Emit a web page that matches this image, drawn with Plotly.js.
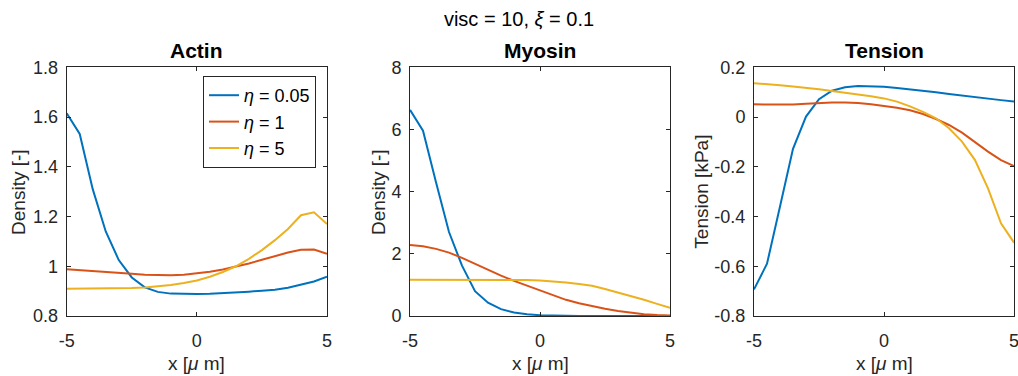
<!DOCTYPE html>
<html>
<head>
<meta charset="utf-8">
<script src="https://cdn.plot.ly/plotly-3.0.1.min.js"></script>
<style>
  html, body { margin: 0; padding: 0; background: #fff; }
  #chart { width: 1018px; height: 376px; }
</style>
</head>
<body>
<div id="chart"></div>
<script>
// Position along the domain, x [μm]
const xPos = [-5, -4.5, -4, -3.5, -3, -2.5, -2, -1.5, -1, -0.5, 0, 0.5, 1, 1.5, 2, 2.5, 3, 3.5, 4, 4.5, 5];

// Series labels (friction coefficient η)
const seriesNames = ['<i>η</i> = 0.05', '<i>η</i> = 1', '<i>η</i> = 5'];
const seriesColors = ['#0072BD', '#D95319', '#EDB120'];

// Actin density [-]
const actinEta005 = [1.615, 1.532, 1.31, 1.14, 1.025, 0.955, 0.915, 0.897, 0.89, 0.888, 0.888, 0.889, 0.891, 0.894, 0.898, 0.902, 0.906, 0.914, 0.925, 0.939, 0.958];
const actinEta1   = [0.988, 0.985, 0.982, 0.978, 0.974, 0.970, 0.966, 0.964, 0.964, 0.966, 0.971, 0.978, 0.987, 0.998, 1.011, 1.026, 1.041, 1.055, 1.066, 1.067, 1.05];
const actinEta5   = [0.91, 0.91, 0.911, 0.911, 0.912, 0.913, 0.915, 0.919, 0.925, 0.933, 0.943, 0.958, 0.977, 1.0, 1.03, 1.065, 1.105, 1.15, 1.205, 1.217, 1.17];

// Myosin density [-]
const myosinEta005 = [6.63, 5.96, 4.3, 2.7, 1.62, 0.8, 0.43, 0.22, 0.11, 0.055, 0.025, 0.012, 0.006, 0.003, 0.002, 0.001, 0.001, 0, 0, 0, 0];
const myosinEta1   = [2.28, 2.24, 2.16, 2.04, 1.87, 1.68, 1.47, 1.30, 1.13, 0.98, 0.84, 0.68, 0.52, 0.41, 0.31, 0.23, 0.16, 0.10, 0.06, 0.035, 0.02];
const myosinEta5   = [1.17, 1.17, 1.17, 1.17, 1.17, 1.17, 1.17, 1.17, 1.17, 1.16, 1.14, 1.12, 1.08, 1.03, 0.97, 0.87, 0.76, 0.64, 0.52, 0.39, 0.26];

// Tension [kPa]
const tensionEta005 = [-0.693, -0.59, -0.36, -0.128, 0.002, 0.072, 0.106, 0.12, 0.125, 0.125, 0.122, 0.117, 0.112, 0.106, 0.1, 0.093, 0.086, 0.08, 0.074, 0.068, 0.062];
const tensionEta1   = [0.051, 0.05, 0.049, 0.05, 0.053, 0.056, 0.058, 0.058, 0.056, 0.051, 0.045, 0.037, 0.027, 0.012, -0.008, -0.032, -0.063, -0.102, -0.139, -0.173, -0.197];
const tensionEta5   = [0.136, 0.133, 0.128, 0.123, 0.118, 0.112, 0.105, 0.099, 0.092, 0.084, 0.075, 0.062, 0.043, 0.021, -0.005, -0.045, -0.099, -0.173, -0.287, -0.427, -0.505];

// Axis ticks
const xTickVals = [-5, 0, 5];
const xTickText = ['-5', '0', '5'];
const actinTickVals = [0.8, 1, 1.2, 1.4, 1.6, 1.8];
const actinTickText = ['0.8', '1', '1.2', '1.4', '1.6', '1.8'];
const myosinTickVals = [0, 2, 4, 6, 8];
const myosinTickText = ['0', '2', '4', '6', '8'];
const tensionTickVals = [-0.8, -0.6, -0.4, -0.2, 0, 0.2];
const tensionTickText = ['-0.8', '-0.6', '-0.4', '-0.2', '0', '0.2'];

// Panel texts
const mainTitle = 'visc = 10, <i>ξ</i> = 0.1';
const panelTitles = ['Actin', 'Myosin', 'Tension'];
const yTitles = ['Density [-]', 'Density [-]', 'Tension [kPa]'];
const xTitle = 'x [<i>μ</i> m]';

const W = 1018, H = 376;
const FONT = 'Liberation Sans, Arial, Helvetica, sans-serif';
const AXIS_COLOR = '#262626';

// Plot-area boxes in pixels
const panels = [
  { left: 66.7, right: 327, yTitleX: 18.3 },
  { left: 410, right: 670, yTitleX: 378.3 },
  { left: 754, right: 1014, yTitleX: 702 }
];
const plotTop = 67.3, plotBottom = 316;
const yDomain = [1 - plotBottom / H, 1 - plotTop / H];

const seriesByPanel = [
  [actinEta005, actinEta1, actinEta5],
  [myosinEta005, myosinEta1, myosinEta5],
  [tensionEta005, tensionEta1, tensionEta5]
];

const traces = [];
seriesByPanel.forEach((group, p) => {
  group.forEach((vals, s) => {
    traces.push({
      type: 'scatter',
      mode: 'lines',
      x: xPos,
      y: vals,
      name: seriesNames[s],
      showlegend: p === 0,
      xaxis: p === 0 ? 'x' : 'x' + (p + 1),
      yaxis: p === 0 ? 'y' : 'y' + (p + 1),
      line: { color: seriesColors[s], width: 2 }
    });
  });
});

function baseAxis() {
  return {
    showgrid: false,
    zeroline: false,
    showline: true,
    linecolor: AXIS_COLOR,
    linewidth: 1,
    mirror: 'ticks',
    ticks: 'inside',
    ticklen: 4,
    tickwidth: 1,
    tickcolor: AXIS_COLOR,
    tickfont: { family: FONT, size: 18, color: AXIS_COLOR },
    ticklabeloverflow: 'allow',
    fixedrange: true
  };
}

const layout = {
  width: W,
  height: H,
  margin: { l: 0, r: 0, t: 0, b: 0 },
  paper_bgcolor: '#ffffff',
  plot_bgcolor: '#ffffff',
  font: { family: FONT, color: AXIS_COLOR },
  title: {
    text: mainTitle,
    font: { family: FONT, size: 20, color: '#000000' },
    xref: 'container', yref: 'container',
    x: 519 / W, y: 1 - 18.5 / H,
    xanchor: 'center', yanchor: 'middle'
  },
  legend: {
    x: 203 / W, y: 1 - 76 / H,
    xanchor: 'left', yanchor: 'top',
    bgcolor: '#ffffff',
    bordercolor: AXIS_COLOR,
    borderwidth: 1,
    font: { family: FONT, size: 18, color: '#000000' },
    tracegroupgap: 0,
    itemwidth: 30
  },
  annotations: []
};

const yTicks = [
  [actinTickVals, actinTickText, [0.8, 1.8]],
  [myosinTickVals, myosinTickText, [0, 8]],
  [tensionTickVals, tensionTickText, [-0.8, 0.2]]
];

panels.forEach((pn, i) => {
  const sfx = i === 0 ? '' : String(i + 1);
  const xa = Object.assign(baseAxis(), {
    domain: [pn.left / W, pn.right / W],
    anchor: 'y' + sfx,
    range: [-5, 5],
    tickvals: xTickVals,
    ticktext: xTickText,
    ticklabelstandoff: 8
  });
  const ya = Object.assign(baseAxis(), {
    domain: yDomain,
    anchor: 'x' + sfx,
    range: yTicks[i][2],
    tickvals: yTicks[i][0],
    ticktext: yTicks[i][1],
    ticklabelstandoff: 4
  });
  layout['xaxis' + sfx] = xa;
  layout['yaxis' + sfx] = ya;

  const cx = (pn.left + pn.right) / 2 / W;
  // panel title
  layout.annotations.push({
    text: '<b>' + panelTitles[i] + '</b>',
    xref: 'paper', yref: 'paper',
    x: cx, y: 1 - 51 / H,
    xanchor: 'center', yanchor: 'middle',
    showarrow: false,
    font: { family: FONT, size: 21, color: '#000000' }
  });
  // x-axis title
  layout.annotations.push({
    text: xTitle,
    xref: 'paper', yref: 'paper',
    x: cx, y: 1 - 363 / H,
    xanchor: 'center', yanchor: 'middle',
    showarrow: false,
    font: { family: FONT, size: 19, color: AXIS_COLOR }
  });
  // y-axis title
  layout.annotations.push({
    text: yTitles[i],
    xref: 'paper', yref: 'paper',
    x: pn.yTitleX / W, y: 1 - (plotTop + plotBottom) / 2 / H,
    xanchor: 'center', yanchor: 'middle',
    textangle: -90,
    showarrow: false,
    font: { family: FONT, size: 19, color: AXIS_COLOR }
  });
});

Plotly.newPlot('chart', traces, layout, { staticPlot: true, displayModeBar: false });
</script>
</body>
</html>
